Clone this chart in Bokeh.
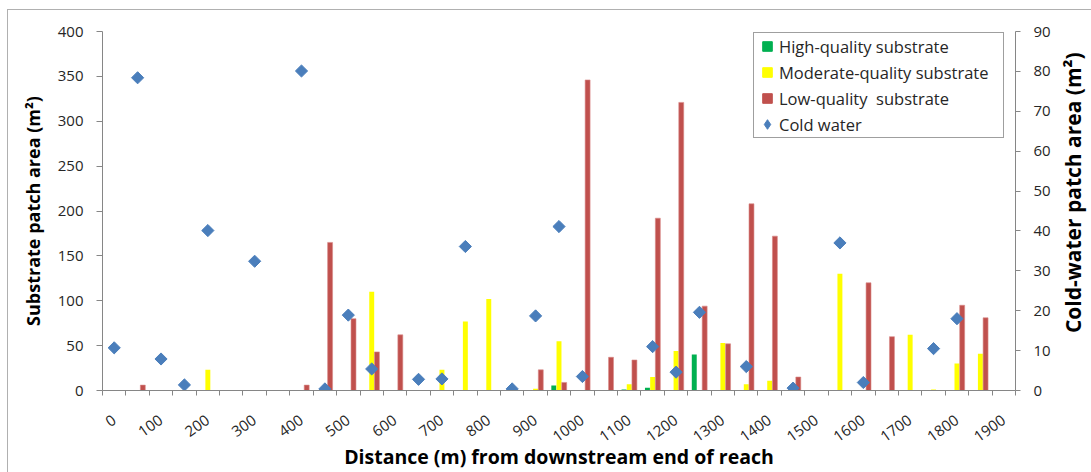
import math
from bokeh.plotting import figure
from bokeh.layouts import row
from bokeh.models import (Range1d, LinearAxis, FixedTicker, Legend, LegendItem,
                          ColumnDataSource)
from bokeh.core.properties import value
from bokeh.transform import dodge
from bokeh.embed import file_html
from bokeh.resources import INLINE

# ---- data -------------------------------------------------------------
# category axis: distance (m) from downstream end of reach, step 50 m
categories = list(range(0, 1901, 50))
tick_labels = [str(d) for d in range(0, 1901, 100)]

high_x = [950, 1100, 1150, 1250]
high_y = [5.6, 1, 3, 40]

moderate_x = [200, 550, 700, 750, 800, 900, 950, 1100, 1150, 1200, 1300,
              1350, 1400, 1550, 1700, 1750, 1800, 1850]
moderate_y = [23, 110, 23, 77, 102, 2, 55, 7, 15, 44, 53,
              7, 11, 130, 62, 1, 30, 41]

low_x = [50, 400, 450, 500, 550, 600, 900, 950, 1000, 1050, 1100, 1150,
         1200, 1250, 1300, 1350, 1400, 1450, 1600, 1650, 1800, 1850]
low_y = [6, 6, 165, 80, 43, 62, 23, 9, 346, 37, 34, 192,
         321, 94, 52, 208, 172, 15, 120, 60, 95, 81]

cold_x = [0, 50, 100, 150, 200, 300, 400, 450, 500, 550, 650, 700, 750,
          850, 900, 950, 1000, 1150, 1200, 1250, 1350, 1450, 1550, 1600,
          1750, 1800]
cold_y = [10.7, 78.4, 7.9, 1.4, 40.1, 32.4, 80.1, 0.4, 18.9, 5.4, 2.8, 2.9,
          36.1, 0.4, 18.7, 41.1, 3.5, 11, 4.6, 19.6, 6, 0.6, 37, 2, 10.5, 18]

right_title = "Cold-water patch area (m²)"

# ---- styling ----------------------------------------------------------
FONT = "Open Sans"
GREEN = "#00B050"
YELLOW = "#FFFF00"
RED = "#C0504D"
BLUE = "#4A7EBB"
AXIS_GREY = "#868686"
TEXT = "#262626"

CAT_W = 50.0
BAR_W = CAT_W / 4.5
OFFSET = BAR_W

W_MAIN, W_SIDE, H = 1045, 38, 462
FW, FH = 914, 359            # plot frame size in px
B_LEFT, B_TOP = 94, 21

p = figure(width=W_MAIN, height=H, output_backend="svg", toolbar_location=None,
           x_range=Range1d(-CAT_W / 2, categories[-1] + CAT_W / 2),
           y_range=Range1d(0, 400),
           min_border_left=B_LEFT, min_border_right=W_MAIN - B_LEFT - FW,
           min_border_top=B_TOP, min_border_bottom=H - B_TOP - FH)
p.extra_y_ranges = {"cold": Range1d(0, 90)}
p.xgrid.visible = False
p.ygrid.visible = False
p.outline_line_color = None
p.background_fill_color = "white"
p.border_fill_color = "white"

src_h = ColumnDataSource(dict(x=high_x, y=high_y))
src_m = ColumnDataSource(dict(x=moderate_x, y=moderate_y))
src_l = ColumnDataSource(dict(x=low_x, y=low_y))
src_c = ColumnDataSource(dict(x=cold_x, y=cold_y))

p.vbar(x=dodge("x", -OFFSET, range=p.x_range), top="y", width=BAR_W * 0.95,
       source=src_h, fill_color=GREEN, line_color=None)
p.vbar(x=dodge("x", 0, range=p.x_range), top="y", width=BAR_W * 0.95,
       source=src_m, fill_color=YELLOW, line_color=None)
p.vbar(x=dodge("x", OFFSET, range=p.x_range), top="y", width=BAR_W * 0.95,
       source=src_l, fill_color=RED, line_color="#D98A88", line_width=0.6)
p.scatter(x="x", y="y", source=src_c, y_range_name="cold",
          marker="square", angle=math.pi / 4, size=8.6,
          fill_color=BLUE, line_color=BLUE)

# legend proxies (outside the visible x range)
proxy_x = [-1000]
proxy_y = [-1000]
lg_h = p.scatter(proxy_x, proxy_y, marker="square", fill_color=GREEN, line_color=GREEN)
lg_m = p.scatter(proxy_x, proxy_y, marker="square", fill_color=YELLOW, line_color=YELLOW)
lg_l = p.scatter(proxy_x, proxy_y, marker="square", fill_color=RED, line_color=RED)
lg_c = p.scatter(proxy_x, proxy_y, marker="diamond", fill_color=BLUE, line_color=BLUE)

# ---- axes ---------------------------------------------------------------
xa = p.xaxis[0]
xa.ticker = FixedTicker(ticks=list(range(0, 1901, 100)),
                        minor_ticks=[c - CAT_W / 2 for c in categories] + [categories[-1] + CAT_W / 2])
xa.major_label_overrides = {int(t): t for t in tick_labels}
xa.major_tick_out = 0
xa.major_tick_in = 0
xa.minor_tick_out = 5
xa.minor_tick_in = 0
xa.minor_tick_line_color = AXIS_GREY
xa.axis_line_color = AXIS_GREY
xa.major_label_orientation = 0.62
xa.major_label_standoff = 23
xa.major_label_text_font = FONT
xa.major_label_text_font_size = "15px"
xa.major_label_text_color = TEXT
xa.axis_label = "Distance (m) from downstream end of reach"
xa.axis_label_text_font = FONT
xa.axis_label_text_font_size = "19.5px"
xa.axis_label_text_font_style = "bold"
xa.axis_label_text_color = "black"
xa.axis_label_standoff = -7

ya = p.yaxis[0]
ya.ticker = FixedTicker(ticks=list(range(0, 401, 50)))
ya.minor_tick_line_color = None
ya.major_tick_out = 6
ya.major_tick_in = 0
ya.major_tick_line_color = AXIS_GREY
ya.axis_line_color = AXIS_GREY
ya.major_label_standoff = 13
ya.major_label_text_font = FONT
ya.major_label_text_font_size = "15px"
ya.major_label_text_color = TEXT
ya.axis_label = "Substrate patch area (m²)"
ya.axis_label_text_font = FONT
ya.axis_label_text_font_size = "18px"
ya.axis_label_text_font_style = "bold"
ya.axis_label_text_color = "black"
ya.axis_label_standoff = 10

ra = LinearAxis(y_range_name="cold", ticker=FixedTicker(ticks=list(range(0, 91, 10))))
ra.minor_tick_line_color = None
ra.major_tick_out = 5
ra.major_tick_in = 0
ra.major_tick_line_color = AXIS_GREY
ra.axis_line_color = AXIS_GREY
ra.major_label_standoff = 13
ra.major_label_text_font = FONT
ra.major_label_text_font_size = "15px"
ra.major_label_text_color = TEXT
p.add_layout(ra, "right")

# ---- legend -------------------------------------------------------------
legend = Legend(items=[
    LegendItem(label="High-quality substrate", renderers=[lg_h]),
    LegendItem(label="Moderate-quality substrate", renderers=[lg_m]),
    LegendItem(label="Low-quality  substrate", renderers=[lg_l]),
    LegendItem(label="Cold water", renderers=[lg_c]),
], location=(651, 252))
legend.glyph_width = 24
legend.glyph_height = 24
legend.label_height = 24
legend.label_width = 223
legend.spacing = 2
legend.padding = 1
legend.margin = 0
legend.label_standoff = -1
legend.label_text_font = FONT
legend.label_text_font_size = "16.5px"
legend.label_text_color = TEXT
legend.border_line_color = "#404040"
legend.border_line_width = 1
legend.background_fill_color = "white"
legend.background_fill_alpha = 1
p.add_layout(legend)

# ---- right-hand title strip (reads bottom-to-top, like the left title) ----
side = figure(width=W_SIDE, height=H, output_backend="svg", toolbar_location=None,
              x_range=Range1d(0, W_SIDE), y_range=Range1d(0, H),
              x_axis_location=None, y_axis_location=None, min_border=0)
side.grid.visible = False
side.outline_line_color = None
side.background_fill_color = "white"
side.border_fill_color = "white"
side.text(x=[W_SIDE / 2], y=[H - B_TOP - FH / 2 - 7], text=[right_title],
          angle=math.pi / 2, text_align="center", text_baseline="middle",
          text_font=value(FONT), text_font_size="21px",
          text_font_style="bold", text_color="black")

layout = row(p, side, spacing=0,
             styles={"margin-left": "8px", "margin-top": "10px",
                     "outline": "1px solid #b0b0b0"})

open("out.html", "w").write(file_html(layout, INLINE))
